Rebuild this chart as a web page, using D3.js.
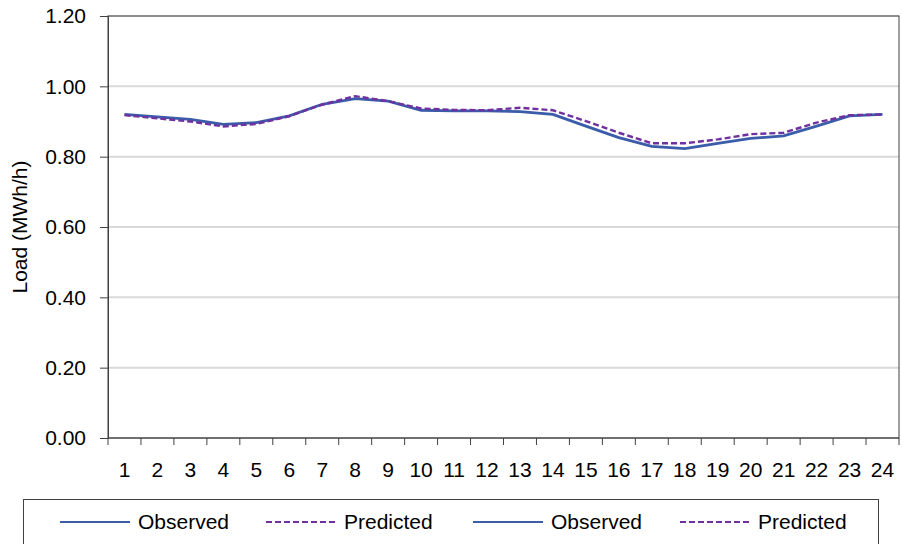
<!DOCTYPE html>
<html>
<head>
<meta charset="utf-8">
<script src="https://cdn.jsdelivr.net/npm/d3@7"></script>
<style>
  body { margin: 0; background: #fff; }
  svg { display: block; font-family: "Liberation Sans", Arial, sans-serif; }
</style>
</head>
<body>
<div id="chart"></div>
<script>
// hours of the day
var hours = d3.range(1, 25);
var observed = [0.920, 0.913, 0.906, 0.892, 0.897, 0.916, 0.949, 0.965, 0.958, 0.932, 0.930, 0.930,
                0.928, 0.920, 0.887, 0.854, 0.829, 0.823, 0.838, 0.852, 0.859, 0.887, 0.916, 0.920];
var predicted = [0.918, 0.909, 0.900, 0.886, 0.893, 0.915, 0.948, 0.972, 0.958, 0.937, 0.933, 0.932,
                 0.939, 0.932, 0.901, 0.868, 0.838, 0.838, 0.849, 0.864, 0.868, 0.897, 0.918, 0.920];
var yTicks = [0, 0.2, 0.4, 0.6, 0.8, 1.0, 1.2];
var legendItems = [
    { name: "Observed", dash: null },
    { name: "Predicted", dash: "6,3" },
    { name: "Observed", dash: null },
    { name: "Predicted", dash: "6,3" }
];

var W = 902, H = 544;
var margin = { top: 16, right: 3, bottom: 106, left: 108 };
var width = W - margin.left - margin.right;
var height = H - margin.top - margin.bottom;
var fontSize = 21;

var svg = d3.select("#chart").append("svg")
    .attr("width", W)
    .attr("height", H);

var g = svg.append("g")
    .attr("transform", "translate(" + margin.left + "," + margin.top + ")");

var x = d3.scaleBand().domain(hours).range([0, width]);
var y = d3.scaleLinear().domain([0, 1.2]).range([height, 0]);

// gridlines
g.selectAll(".grid")
    .data(yTicks.slice(1))
    .enter().append("line")
    .attr("class", "grid")
    .attr("x1", 0).attr("x2", width)
    .attr("y1", function(d) { return y(d); })
    .attr("y2", function(d) { return y(d); })
    .attr("stroke", "#d9d9d9")
    .attr("stroke-width", 2);

// plot border
g.append("rect")
    .attr("width", width).attr("height", height)
    .attr("fill", "none")
    .attr("stroke", "#404040")
    .attr("stroke-width", 1);

// y axis
var yAxis = g.append("g")
    .call(d3.axisLeft(y).tickValues(yTicks).tickFormat(d3.format(".2f")).tickSize(8).tickPadding(14));
yAxis.select(".domain").attr("stroke", "#404040");
yAxis.selectAll(".tick line").attr("stroke", "#404040");
yAxis.selectAll("text").attr("font-size", fontSize).attr("fill", "#000")
    .style("font-family", "Liberation Sans, Arial, sans-serif");

// x axis: ticks between categories
var xAxis = g.append("g")
    .attr("transform", "translate(0," + height + ")");
xAxis.append("line")
    .attr("x1", 0).attr("x2", width)
    .attr("stroke", "#404040");
xAxis.selectAll(".xtick")
    .data(d3.range(0, 25))
    .enter().append("line")
    .attr("class", "xtick")
    .attr("x1", function(i) { return i * x.bandwidth(); })
    .attr("x2", function(i) { return i * x.bandwidth(); })
    .attr("y1", 0).attr("y2", 7)
    .attr("stroke", "#404040");
xAxis.selectAll(".xlabel")
    .data(hours)
    .enter().append("text")
    .attr("class", "xlabel")
    .attr("x", function(d) { return x(d) + x.bandwidth() / 2; })
    .attr("y", 39)
    .attr("text-anchor", "middle")
    .attr("font-size", fontSize)
    .text(function(d) { return d; });

// y axis label
svg.append("text")
    .attr("transform", "translate(27," + (margin.top + height / 2) + ") rotate(-90)")
    .attr("text-anchor", "middle")
    .attr("font-size", fontSize)
    .text("Load (MWh/h)");

var line = d3.line()
    .x(function(d, i) { return x(hours[i]) + x.bandwidth() / 2; })
    .y(function(d) { return y(d); });

g.append("path")
    .datum(observed)
    .attr("d", line)
    .attr("fill", "none")
    .attr("stroke", "#3b5ca8")
    .attr("stroke-width", 2.8);

g.append("path")
    .datum(predicted)
    .attr("d", line)
    .attr("fill", "none")
    .attr("stroke", "#7030a0")
    .attr("stroke-width", 2.4)
    .attr("stroke-dasharray", "6,3");

// legend
var legend = svg.append("g");
legend.append("rect")
    .attr("x", 23.5).attr("y", 499.5)
    .attr("width", 855).attr("height", 60)
    .attr("fill", "#fff")
    .attr("stroke", "#404040");

var legendX = [60, 266, 473, 680];
var item = legend.selectAll(".item")
    .data(legendItems)
    .enter().append("g")
    .attr("class", "item")
    .attr("transform", function(d, i) { return "translate(" + legendX[i] + ",522)"; });
item.append("line")
    .attr("x1", 0).attr("x2", 70)
    .attr("stroke", function(d) { return d.dash ? "#7030a0" : "#3b5ca8"; })
    .attr("stroke-width", 2)
    .attr("stroke-dasharray", function(d) { return d.dash; });
item.append("text")
    .attr("x", 78).attr("y", 7)
    .attr("font-size", fontSize)
    .text(function(d) { return d.name; });
</script>
</body>
</html>
